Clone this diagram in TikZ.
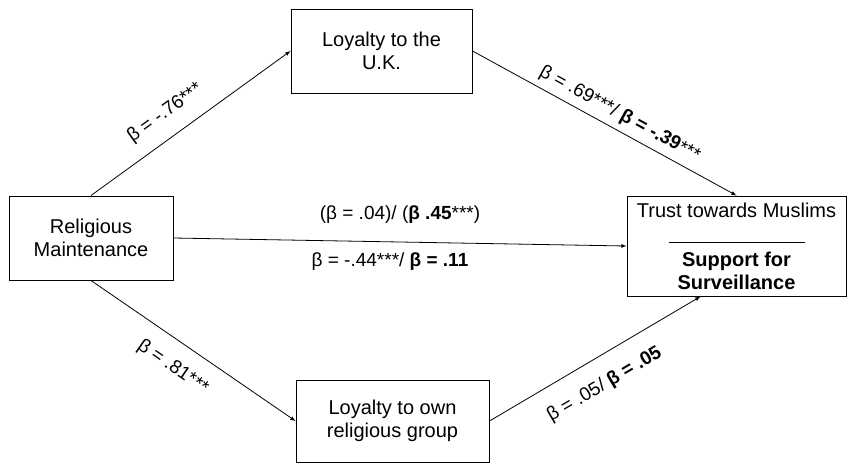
\documentclass[tikz,border=0pt]{standalone}
\usepackage{fontspec}
\setmainfont{Liberation Sans}
\usetikzlibrary{arrows}

\newcommand{\boxfont}{\fontsize{20}{23}\selectfont}
\newcommand{\lblfont}{\fontsize{19}{22}\selectfont}
\tikzset{
    box/.style={draw, rectangle, align=center, font=\boxfont, line width=1pt, inner sep=2pt},
    lbl/.style={font=\lblfont, inner sep=2pt},
}

\begin{document}
\begin{tikzpicture}[x=1pt, y=-1pt, >=latex, line width=0.8pt]
    \useasboundingbox (0,0) rectangle (848,464);
    \node[box, minimum width=164pt, minimum height=84pt] (RM) at (91, 238) {Religious\\Maintenance};
    \node[box, minimum width=181pt, minimum height=84pt] (UK) at (381.5, 51) {Loyalty to the\\U.K.};
    \node[box, minimum width=193pt, minimum height=82pt] (OG) at (392.5, 421) {Loyalty to own\\religious group};
    \node[box, minimum width=219pt, minimum height=100pt] (TR) at (736.5, 246)
        {Trust towards Muslims\\[3pt]\rule{136pt}{0.8pt}\\\textbf{Support for}\\\textbf{Surveillance}};

    \draw[->] (RM.north) to node[lbl, pos=0.44, above=12pt, sloped] {β = -.76***} (UK.west);
    \draw[->] (UK.east) to node[lbl, pos=0.53, above=4pt, sloped] {β = .69***/ \textbf{β = -.39}***} (TR.north);
    \draw[->] (RM.east) to node[lbl, midway, above=16pt] {(β = .04)/ (\textbf{β .45}***)}
        node[lbl, midway, below=8pt, xshift=-10pt] {β = -.44***/ \textbf{β = .11}} (TR.west);
    \draw[->] (RM.south) to node[lbl, pos=0.47, below=14pt, sloped] {β = .81***} (OG.west);
    \draw[->] (OG.east) to node[lbl, pos=0.48, below=16pt, sloped] {β = .05/ \textbf{β = .05}} ([xshift=-36pt]TR.south);

\end{tikzpicture}
\end{document}
